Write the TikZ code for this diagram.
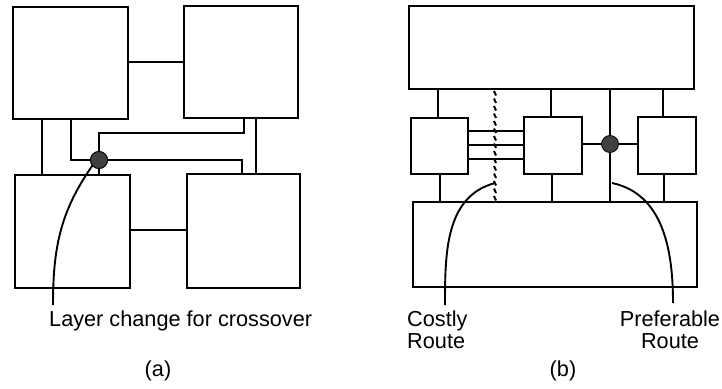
\documentclass[tikz,border=0pt]{standalone}
\usepackage{fontspec}
\setmainfont{Liberation Sans}
\begin{document}
\begin{tikzpicture}[x=1pt,y=-1pt,
  blk/.style={draw, line width=2.8pt, inner sep=0pt, outer sep=0pt},
  wire/.style={line width=2.8pt},
  tickmark/.style={line width=2pt},
  via/.style={circle, fill=black!75, draw=black, line width=0.8pt, minimum size=17pt, inner sep=0pt, outer sep=0pt},
  leader/.style={line width=1.9pt},
  lbl/.style={font=\fontsize{21.7}{22}\selectfont, inner sep=0pt, text=black}]
\useasboundingbox (0,0) rectangle (722,388);

% ---------- panel (a) ----------
\node[blk, minimum width=115pt, minimum height=112pt] (TL) at (70.5,63) {};
\node[blk, minimum width=114pt, minimum height=112pt] (TR) at (241,62) {};
\node[blk, minimum width=115pt, minimum height=113pt] (BL) at (72.5,231.5) {};
\node[blk, minimum width=113pt, minimum height=114pt] (BR) at (243.5,231) {};
\node[via] (va) at (99,160) {};

\draw[wire] (TL.east |- 0,62) -- (TR.west |- 0,62);
\draw[wire] (BL.east |- 0,230) -- (BR.west |- 0,230);
\draw[wire] (TL.south -| 42,0) -- (BL.north -| 42,0);
\draw[wire] (TL.south -| 71,0) |- (va.west);
\draw[wire] (va.east) -| (BR.north -| 242,0);
\draw[wire] (va.north) -- (va.north |- 0,133) -| (TR.south -| 244,0);
\draw[wire] (va.south) -- (BL.north -| va);
\draw[wire] (TR.south -| 256,0) -- (BR.north -| 256,0);
\node[via] at (va) {};

\coordinate (aE) at (53,305);
\draw[leader] (va.220) to[out=235,in=90] (aE);

% ---------- panel (b) ----------
\node[blk, minimum width=285pt, minimum height=83pt] (TP) at (551.5,47.5) {};
\node[blk, minimum width=57pt, minimum height=56pt] (L) at (439.5,146) {};
\node[blk, minimum width=58pt, minimum height=57pt] (M) at (553,145.5) {};
\node[blk, minimum width=58pt, minimum height=57pt] (R) at (667,145.5) {};
\node[blk, minimum width=284pt, minimum height=85pt] (BT) at (555,244.5) {};
\coordinate (vb) at (610,144);

\draw[wire] (TP.south -| 438,0) -- (L.north -| 438,0);
\draw[wire] (L.south -| 440,0) -- (BT.north -| 440,0);
\draw[wire] (TP.south -| 551,0) -- (M.north -| 551,0);
\draw[wire] (M.south -| 552,0) -- (BT.north -| 552,0);
\draw[wire] (TP.south -| 663,0) -- (R.north -| 663,0);
\draw[wire] (R.south -| 664,0) -- (BT.north -| 664,0);
\draw[wire] (TP.south -| vb) -- (BT.north -| vb);
\draw[wire] (M.east |- vb) -- (R.west |- vb);
\draw[wire] (L.east |- 0,131) -- (M.west |- 0,131);
\draw[wire] (L.east |- 0,145) -- (M.west |- 0,145);
\draw[wire] (L.east |- 0,159) -- (M.west |- 0,159);
\foreach \yy in {91,98.5,...,197} \draw[tickmark] (494,\yy) -- ++(2,4.5);
\node[via] (vbn) at (vb) {};

\coordinate (cS) at (495,183);
\coordinate (cE) at (445,305);
\draw[leader] (cS) to[out=195,in=90] (cE);
\coordinate (pS) at (612,183);
\coordinate (pE) at (673,303);
\draw[leader] (pS) to[out=-12,in=90] (pE);

% ---------- labels ----------
\node[lbl, anchor=base west] (tA) at (49,326) {Layer change for crossover};
\node[lbl, anchor=north west, align=left] (tC) at (407,311) {Costly\\Route};
\node[lbl, anchor=north, align=center] (tP) at (670,311) {Preferable\\Route};
\node[lbl] (capa) at (158,371) {(a)};
\node[lbl] (capb) at (563,371) {(b)};
\end{tikzpicture}
\end{document}
